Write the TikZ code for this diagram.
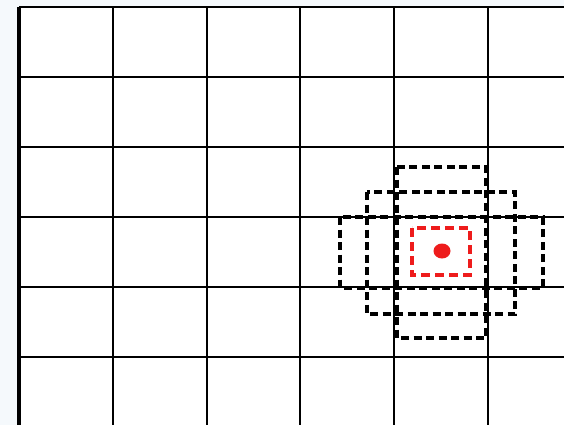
\documentclass[tikz,border=0pt]{standalone}
\usepackage{tikz}
\usepackage{xcolor}
\definecolor{paper}{HTML}{F5F9FC}
\definecolor{hot}{HTML}{EE1C1C}
\tikzset{
  gridline/.style={draw=black, line width=2.5pt},
  window/.style={draw=black, line width=3.5pt, dash pattern=on 8pt off 4.5pt},
  target/.style={draw=hot, line width=3.5pt, dash pattern=on 9pt off 5pt},
}
\begin{document}
\begin{tikzpicture}[x=1pt, y=-1pt]

  % page and grid area
  \fill[paper] (0,0) rectangle (564,425);
  \useasboundingbox (0,0) rectangle (564,425);
  \fill[white] (19,7) rectangle (564,425);

  % grid
  \foreach \x in {19,113,207,300,394,488}
    \draw[gridline] (\x,7) -- (\x,425);
  \foreach \y in {7,77,147,217,287,357}
    \draw[gridline] (19,\y) -- (564,\y);
  \draw[line width=3.5pt] (19,7) -- (19,425);

  % search windows round the target cell
  \draw[window] (397,167) rectangle (486,338);
  \draw[window] (367,192) rectangle (515,314);
  \draw[window] (340,217) rectangle (543,288);

  % target
  \draw[target] (412,228) rectangle (470,275);
  \fill[hot] (442,251) ellipse (8.5 and 7.5);

\end{tikzpicture}
\end{document}
